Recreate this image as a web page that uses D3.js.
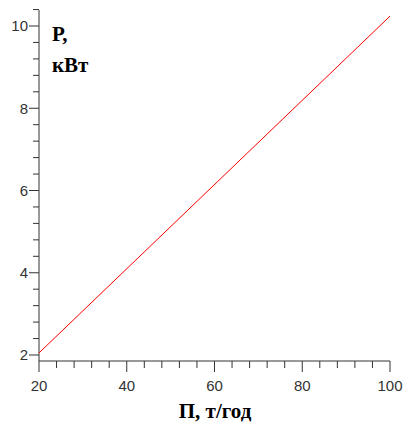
<!DOCTYPE html>
<html>
<head>
<meta charset="utf-8">
<script src="https://cdn.jsdelivr.net/npm/d3@7"></script>
<style>
  body { margin: 0; background: #fff; }
  .tick text { font-family: "Liberation Sans", Arial, sans-serif; font-size: 15px; fill: #333; }
  .axis path, .axis line { stroke: #333; }
  .title { font-family: "Liberation Serif", "Times New Roman", serif; font-weight: bold; font-size: 21px; fill: #000; }
</style>
</head>
<body>
<div id="chart"></div>
<script>
// --- DATOS ---
const productivity = [20, 100];       // П, т/год
const power = [2.05, 10.24];          // Р, кВт
const xMajorTicks = [20, 40, 60, 80, 100];
const xMinorTicks = [24, 28, 32, 36, 44, 48, 52, 56, 64, 68, 72, 76, 84, 88, 92, 96];
const yMajorTicks = [2, 4, 6, 8, 10];
const yMinorTicks = [2.4, 2.8, 3.2, 3.6, 4.4, 4.8, 5.2, 5.6, 6.4, 6.8, 7.2, 7.6, 8.4, 8.8, 9.2, 9.6, 10.4];

// --- CONFIGURACIÓN ---
const W = 405, H = 425;
const x = d3.scaleLinear().domain([20, 100]).range([39, 390]);
const y = d3.scaleLinear().domain([2, 10]).range([355, 26]);
const yBottom = 361, yTop = 10;

const svg = d3.select("#chart").append("svg").attr("width", W).attr("height", H);

// eje X
const gx = svg.append("g").attr("class", "axis").attr("transform", `translate(0,${yBottom})`);
gx.append("line").attr("x1", x(20)).attr("x2", x(100)).attr("y1", 0).attr("y2", 0);
gx.selectAll(".minor").data(xMinorTicks).enter().append("line")
  .attr("x1", d => x(d)).attr("x2", d => x(d)).attr("y1", 0).attr("y2", 7);
const xt = gx.selectAll(".tick").data(xMajorTicks).enter().append("g").attr("class", "tick")
  .attr("transform", d => `translate(${x(d)},0)`);
xt.append("line").attr("y2", 11);
xt.append("text").attr("y", 30).attr("text-anchor", "middle").text(d => d);

// eje Y
const gy = svg.append("g").attr("class", "axis").attr("transform", `translate(${x(20)},0)`);
gy.append("line").attr("x1", 0).attr("x2", 0).attr("y1", yTop).attr("y2", yBottom);
gy.selectAll(".minor").data(yMinorTicks).enter().append("line")
  .attr("x1", -6).attr("x2", 0).attr("y1", d => y(d)).attr("y2", d => y(d));
const yt = gy.selectAll(".tick").data(yMajorTicks).enter().append("g").attr("class", "tick")
  .attr("transform", d => `translate(0,${y(d)})`);
yt.append("line").attr("x2", -10);
yt.append("text").attr("x", -11).attr("dy", "0.36em").attr("text-anchor", "end").text(d => d);

// línea
const line = d3.line().x(d => x(d[0])).y(d => y(d[1]));
svg.append("path").datum(d3.zip(productivity, power))
  .attr("d", line).attr("fill", "none").attr("stroke", "#ff0000").attr("stroke-width", 1);

// títulos
svg.append("text").attr("class", "title").attr("x", 52).attr("y", 41).text("Р,");
svg.append("text").attr("class", "title").attr("x", 52).attr("y", 72).text("кВт");
svg.append("text").attr("class", "title").attr("x", 215).attr("y", 418).attr("text-anchor", "middle").text("П, т/год");
</script>
</body>
</html>
